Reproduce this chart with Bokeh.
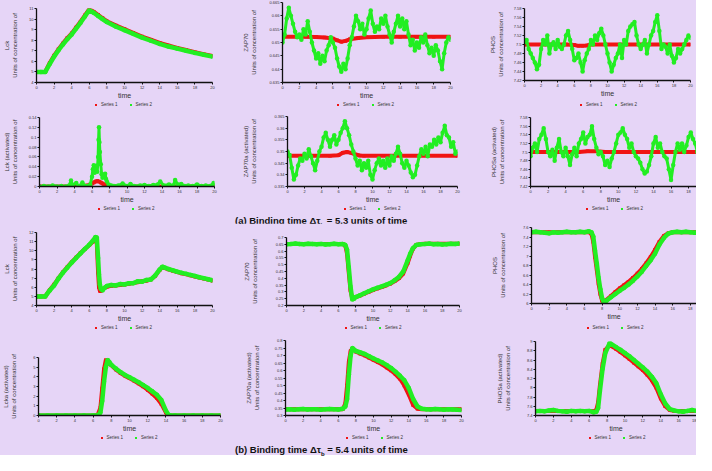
import math
from bokeh.plotting import figure
from bokeh.models import (Range1d, FixedTicker, Legend, LegendItem, Div)
from bokeh.layouts import row, column
from bokeh.embed import file_html
from bokeh.resources import INLINE

# ---------------- data ----------------
X_TICKS = [0, 2, 4, 6, 8, 10, 12, 14, 16, 18, 20]
T_GRID = [i / 4 for i in range(81)]

# (a) Lck
T1 = [0, 0.5, 1, 1.5, 2, 2.5, 3, 3.5, 4, 4.5, 5, 5.5, 6, 6.5, 7, 7.5, 8, 9, 10,
      11, 12, 13, 14, 15, 16, 17, 18, 19, 20]
LCK_A_S1 = [5.0, 5.0, 5.02, 5.85, 6.55, 7.15, 7.7, 8.2, 8.65, 9.2, 9.75, 10.35,
            10.95, 10.7, 10.4, 10.1, 9.8, 9.4, 9.05, 8.7, 8.35, 8.05, 7.75, 7.5,
            7.28, 7.07, 6.87, 6.68, 6.5]
LCK_A_S2 = [5.0, 5.0, 5.0, 5.75, 6.45, 7.05, 7.6, 8.1, 8.55, 9.1, 9.65, 10.25,
            10.85, 10.6, 10.3, 10.0, 9.72, 9.3, 8.95, 8.6, 8.25, 7.95, 7.65, 7.4,
            7.2, 7.0, 6.8, 6.62, 6.45]

# (a) ZAP70
T2R = [0, 2, 4, 5, 6, 6.5, 7, 7.5, 8, 9, 10, 12, 14, 16, 18, 20]
ZAP_A_S1 = [0.6522, 0.6522, 0.6521, 0.6519, 0.6515, 0.6508, 0.6503, 0.6506,
            0.6512, 0.6517, 0.6520, 0.6522, 0.6522, 0.6522, 0.6522, 0.6522]
ZAP_A_S2 = [0.650, 0.653, 0.659, 0.663, 0.660, 0.657, 0.654, 0.652, 0.653, 0.651,
            0.655, 0.653, 0.658, 0.654, 0.650, 0.647, 0.644, 0.646, 0.642, 0.645,
            0.643, 0.647, 0.649, 0.652, 0.650, 0.648, 0.644, 0.641, 0.639, 0.642,
            0.640, 0.644, 0.649, 0.652, 0.656, 0.660, 0.658, 0.655, 0.657, 0.653,
            0.655, 0.659, 0.662, 0.657, 0.654, 0.656, 0.655, 0.659, 0.657, 0.660,
            0.656, 0.653, 0.650, 0.654, 0.657, 0.660, 0.656, 0.659, 0.655, 0.658,
            0.653, 0.649, 0.651, 0.647, 0.650, 0.648, 0.652, 0.650, 0.653, 0.649,
            0.646, 0.648, 0.645, 0.649, 0.647, 0.643, 0.640, 0.646, 0.650, 0.652,
            0.651]

# (a) PHOS
T3R = [0, 5, 6, 6.5, 7, 7.5, 8, 20]
PHOS_A_S1 = [7.500, 7.500, 7.499, 7.497, 7.497, 7.498, 7.500, 7.500]
PHOS_A_S2 = [7.505, 7.510, 7.490, 7.480, 7.470, 7.460, 7.445, 7.455, 7.490, 7.510,
             7.500, 7.520, 7.480, 7.500, 7.505, 7.490, 7.510, 7.495, 7.490, 7.500,
             7.520, 7.530, 7.510, 7.490, 7.465, 7.470, 7.480, 7.460, 7.440, 7.465,
             7.480, 7.490, 7.510, 7.500, 7.520, 7.510, 7.525, 7.535, 7.520, 7.500,
             7.480, 7.460, 7.440, 7.455, 7.470, 7.480, 7.500, 7.470, 7.510, 7.500,
             7.530, 7.540, 7.545, 7.550, 7.520, 7.500, 7.490, 7.500, 7.510, 7.480,
             7.500, 7.520, 7.530, 7.550, 7.565, 7.530, 7.490, 7.500, 7.495, 7.480,
             7.500, 7.475, 7.460, 7.470, 7.490, 7.480, 7.490, 7.500, 7.510, 7.520,
             7.515]

# (a) Lck (activated)
T4R = [0, 4.5, 5.0, 5.5, 5.8, 6.0, 6.2, 6.4, 6.6, 6.8, 7.0, 7.2, 7.4, 7.6, 7.8,
       8.0, 8.5, 9, 20]
LCKA_A_S1 = [0, 0, 0.001, 0.002, 0.004, 0.006, 0.008, 0.010, 0.011, 0.010, 0.008,
             0.006, 0.004, 0.003, 0.002, 0.001, 0.0005, 0, 0]
T4 = [0, 0.5, 1, 1.5, 2, 2.5, 3,
      3.4, 3.6, 3.8, 4.2, 4.4, 4.7, 4.9, 5.1, 5.5, 5.8,
      6.0, 6.1, 6.2, 6.3, 6.4, 6.5, 6.6, 6.7, 6.75, 6.8, 6.85, 6.9,
      7.0, 7.1, 7.2, 7.3, 7.4, 7.5, 7.6, 7.7, 7.9,
      8.2, 8.5, 9, 9.5, 10, 10.4, 10.8, 11.5, 12, 12.5,
      13, 13.5, 13.8, 14.2, 14.8, 15.3, 15.5, 15.8, 16.2, 16.6,
      17, 17.5, 18, 18.5, 19, 19.5, 19.9, 20]
LCKA_A_S2 = [0, 0.001, 0, 0.002, 0, 0.001, 0,
             0.002, 0.012, 0.003, 0.007, 0.001, 0.002, 0.008, 0.002, 0.001, 0.004,
             0.020, 0.035, 0.043, 0.028, 0.038, 0.042, 0.030, 0.060, 0.095, 0.120, 0.090, 0.070,
             0.045, 0.025, 0.018, 0.024, 0.020, 0.026, 0.015, 0.010, 0.004,
             0.002, 0.001, 0.002, 0.006, 0.001, 0.005, 0.001, 0.002, 0.003, 0.001,
             0.003, 0.004, 0.010, 0.002, 0.004, 0.002, 0.013, 0.004, 0.005, 0.001,
             0.002, 0.001, 0.004, 0.001, 0.002, 0.001, 0.007, 0.002]

# (a) ZAP70a (activated)
T5R = [0, 5, 6, 6.5, 7, 7.5, 8, 8.5, 9, 20]
ZAPA_A_S1 = [0.3482, 0.3482, 0.3484, 0.3495, 0.3498, 0.3494, 0.3487, 0.3483,
             0.3482, 0.3482]
ZAPA_A_S2 = [0.350, 0.3485, 0.343, 0.338, 0.340, 0.344, 0.347, 0.346, 0.349, 0.347,
             0.351, 0.348, 0.345, 0.342, 0.346, 0.350, 0.352, 0.356, 0.358, 0.355,
             0.352, 0.355, 0.357, 0.353, 0.355, 0.358, 0.360, 0.363, 0.360, 0.357,
             0.353, 0.350, 0.347, 0.344, 0.346, 0.342, 0.345, 0.343, 0.346, 0.340,
             0.338, 0.342, 0.345, 0.347, 0.344, 0.346, 0.343, 0.347, 0.344, 0.348,
             0.346, 0.349, 0.352, 0.349, 0.345, 0.343, 0.346, 0.344, 0.341, 0.339,
             0.340, 0.344, 0.348, 0.351, 0.349, 0.352, 0.348, 0.353, 0.352, 0.355,
             0.353, 0.356, 0.354, 0.358, 0.361, 0.357, 0.356, 0.352, 0.354, 0.349,
             0.350]

# (a) PHOSa (activated)
T6R = [0, 5.5, 6.5, 7.5, 8.5, 20]
PHOSA_A_S1 = [7.500, 7.500, 7.502, 7.502, 7.500, 7.500]
PHOSA_A_S2 = [7.490, 7.510, 7.520, 7.500, 7.530, 7.540, 7.555, 7.530, 7.500, 7.490,
              7.505, 7.480, 7.510, 7.530, 7.500, 7.490, 7.510, 7.490, 7.470, 7.495,
              7.510, 7.490, 7.520, 7.530, 7.545, 7.520, 7.535, 7.540, 7.560, 7.530,
              7.510, 7.495, 7.500, 7.490, 7.470, 7.480, 7.465, 7.485, 7.500, 7.520,
              7.540, 7.545, 7.555, 7.540, 7.530, 7.510, 7.520, 7.500, 7.490, 7.485,
              7.475, 7.460, 7.450, 7.455, 7.470, 7.490, 7.520, 7.535, 7.510, 7.520,
              7.500, 7.490, 7.485, 7.460, 7.435, 7.470, 7.500, 7.520, 7.505, 7.520,
              7.500, 7.515, 7.535, 7.545, 7.530, 7.520, 7.500, 7.485, 7.470, 7.460,
              7.475]

# (b) Lck
T7 = [0, 0.5, 1, 1.5, 2, 2.5, 3, 3.5, 4, 4.5, 5, 5.5, 6,
      6.4, 6.7, 6.85, 7.0, 7.1, 7.2, 7.3, 7.5, 7.75,
      8, 8.5, 9, 9.5, 10, 10.5, 11, 11.5, 12, 12.5, 13, 13.5, 14,
      14.3, 14.6, 15, 15.5, 16, 16.5, 17, 17.5, 18, 18.5, 19, 19.5, 20]
LCK_B_S1 = [5.0, 5.0, 5.0, 5.7, 6.3, 7.0, 7.65, 8.2, 8.75, 9.25, 9.75, 10.2, 10.6,
            11.0, 11.35, 10.8, 7.6, 6.0, 5.6, 5.6, 5.75, 5.95,
            6.05, 6.15, 6.2, 6.25, 6.3, 6.38, 6.45, 6.55, 6.65, 6.72, 6.85, 7.25, 7.9,
            8.2, 8.1, 7.95, 7.8, 7.65, 7.52, 7.42, 7.3, 7.18, 7.06, 6.95, 6.84, 6.72]
LCK_B_S2 = [5.0, 5.0, 5.0, 5.65, 6.2, 6.95, 7.6, 8.15, 8.7, 9.2, 9.7, 10.2, 10.65,
            11.1, 11.5, 11.45, 9.2, 7.4, 6.3, 5.85, 5.65, 5.95,
            6.15, 6.25, 6.2, 6.35, 6.3, 6.45, 6.45, 6.65, 6.6, 6.8, 6.85, 7.3, 7.95,
            8.25, 8.15, 8.0, 7.85, 7.7, 7.58, 7.47, 7.35, 7.23, 7.1, 7.0, 6.88, 6.76]

# (b) ZAP70
T8 = [0, 0.5, 1, 1.5, 2, 2.5, 3, 3.5, 4, 4.5, 5, 5.5, 6,
      6.5, 6.8, 7.0, 7.2, 7.4, 7.6, 7.8, 8,
      8.5, 9, 9.5, 10, 10.5, 11, 11.5, 12, 12.5, 13, 13.5, 14,
      14.3, 14.6, 15, 15.5, 16, 16.5, 17, 17.5, 18, 18.5, 19, 19.5, 20]
ZAP_B_S1 = [0.652, 0.652, 0.652, 0.652, 0.652, 0.652, 0.652, 0.652, 0.652, 0.652,
            0.652, 0.652, 0.652,
            0.652, 0.640, 0.580, 0.440, 0.310, 0.250, 0.252, 0.262,
            0.273, 0.287, 0.300, 0.313, 0.325, 0.335, 0.347, 0.360, 0.378, 0.400,
            0.435, 0.510,
            0.565, 0.615, 0.645, 0.652, 0.654, 0.654, 0.654, 0.654, 0.654, 0.654,
            0.654, 0.654, 0.654]
ZAP_B_S2 = [0.650, 0.652, 0.655, 0.653, 0.651, 0.654, 0.652, 0.650, 0.653, 0.648,
            0.651, 0.654, 0.651,
            0.652, 0.645, 0.610, 0.480, 0.340, 0.245, 0.250, 0.262,
            0.275, 0.290, 0.305, 0.318, 0.330, 0.340, 0.352, 0.365, 0.385, 0.410,
            0.450, 0.530,
            0.580, 0.620, 0.645, 0.650, 0.652, 0.655, 0.650, 0.652, 0.649, 0.651,
            0.654, 0.652, 0.656]

# (b) PHOS
T9 = [0, 0.5, 1, 1.5, 2, 2.5, 3, 3.5, 4, 4.5, 5, 5.5, 6,
      6.5, 6.8, 7.0, 7.2, 7.4, 7.6, 7.8, 8.0, 8.2,
      8.5, 9, 9.5, 10, 10.5, 11, 11.5, 12, 12.5, 13, 13.5, 14,
      14.5, 15, 15.5, 16, 16.5, 17, 17.5, 18, 18.5, 19, 19.5, 20]
PHOS_B_S1 = [7.50, 7.50, 7.50, 7.50, 7.50, 7.50, 7.50, 7.50, 7.50, 7.50, 7.50, 7.50,
             7.50,
             7.50, 7.46, 7.30, 6.98, 6.70, 6.42, 6.20, 6.06, 6.02,
             6.08, 6.16, 6.24, 6.32, 6.39, 6.46, 6.54, 6.63, 6.73, 6.85, 6.98, 7.13,
             7.30, 7.42, 7.48, 7.50, 7.50, 7.50, 7.50, 7.50, 7.50, 7.50, 7.50, 7.50]
PHOS_B_S2 = [7.50, 7.51, 7.50, 7.49, 7.48, 7.50, 7.49, 7.50, 7.51, 7.50, 7.50, 7.51,
             7.50,
             7.52, 7.50, 7.41, 7.11, 6.84, 6.54, 6.30, 6.11, 6.03,
             6.06, 6.13, 6.20, 6.27, 6.33, 6.40, 6.48, 6.57, 6.67, 6.79, 6.91, 7.05,
             7.24, 7.38, 7.47, 7.50, 7.51, 7.50, 7.51, 7.50, 7.49, 7.51, 7.50, 7.52]

# (b) Lck (activated)
T10 = [0, 1, 2, 3, 4, 5, 6,
       6.5, 6.8, 7.0, 7.2, 7.4, 7.6, 7.8, 8,
       8.5, 9, 9.5, 10, 10.5, 11, 11.5, 12, 12.5, 13, 13.5, 14,
       14.3, 14.5, 15, 16, 17, 18, 19, 20]
LCKA_B_S1 = [0, 0, 0, 0, 0, 0, 0,
             0.05, 0.8, 2.8, 4.8, 5.75, 5.6, 5.4, 5.2,
             4.75, 4.4, 4.1, 3.85, 3.6, 3.3, 3.0, 2.65, 2.25, 1.8, 1.2, 0.3,
             0, 0, 0, 0, 0, 0, 0, 0]
LCKA_B_S2 = [0, 0, 0, 0, 0, 0, 0,
             0.02, 0.3, 1.5, 3.5, 5.0, 5.75, 5.5, 5.25,
             4.85, 4.5, 4.2, 3.95, 3.7, 3.45, 3.15, 2.85, 2.5, 2.15, 1.6, 0.5,
             0.05, 0, 0, 0, 0, 0, 0, 0]

# (b) ZAP70a (activated)
T11 = [0, 0.5, 1, 1.5, 2, 2.5, 3, 3.5, 4, 4.5, 5, 5.5, 6,
       6.5, 6.8, 7.0, 7.2, 7.4, 7.6, 8,
       8.5, 9, 9.5, 10, 10.5, 11, 11.5, 12, 12.5, 13, 13.5, 14,
       14.5, 15, 15.5, 16, 16.5, 17, 17.5, 18, 18.5, 19, 19.5, 20]
ZAPA_B_S1 = [0.341, 0.341, 0.341, 0.341, 0.341, 0.341, 0.341, 0.341, 0.341, 0.341,
             0.341, 0.341, 0.341,
             0.341, 0.38, 0.50, 0.66, 0.73, 0.745, 0.725,
             0.712, 0.70, 0.685, 0.67, 0.655, 0.64, 0.62, 0.60, 0.575, 0.545, 0.50,
             0.44,
             0.37, 0.345, 0.341, 0.341, 0.341, 0.341, 0.341, 0.341, 0.341, 0.341,
             0.341, 0.341]
ZAPA_B_S2 = [0.340, 0.342, 0.339, 0.341, 0.343, 0.340, 0.342, 0.341, 0.339, 0.342,
             0.344, 0.341, 0.340,
             0.345, 0.36, 0.41, 0.575, 0.70, 0.75, 0.73,
             0.72, 0.71, 0.695, 0.68, 0.667, 0.653, 0.636, 0.616, 0.592, 0.565,
             0.535, 0.484,
             0.41, 0.36, 0.345, 0.342, 0.340, 0.343, 0.341, 0.339, 0.342, 0.340,
             0.338, 0.337]

# (b) PHOSa (activated)
T12 = [0, 0.5, 1, 1.5, 2, 2.5, 3, 3.5, 4, 4.5, 5, 5.5, 6,
       6.5, 6.8, 7.0, 7.2, 7.5, 7.8, 8.3,
       9, 9.5, 10, 10.5, 11, 11.5, 12, 12.5, 13, 13.5, 14,
       14.5, 15, 15.5, 16, 16.5, 17, 17.5, 18, 18.5, 19]
PHOSA_B_S1 = [7.50, 7.50, 7.50, 7.50, 7.50, 7.50, 7.50, 7.50, 7.50, 7.50, 7.50,
              7.50, 7.50,
              7.49, 7.52, 7.68, 8.05, 8.52, 8.82, 8.92,
              8.84, 8.77, 8.70, 8.62, 8.54, 8.46, 8.38, 8.28, 8.16, 8.00, 7.77,
              7.60, 7.52, 7.50, 7.50, 7.50, 7.50, 7.50, 7.50, 7.50, 7.50]
PHOSA_B_S2 = [7.49, 7.50, 7.49, 7.51, 7.52, 7.50, 7.49, 7.48, 7.50, 7.49, 7.50,
              7.49, 7.50,
              7.47, 7.48, 7.56, 7.93, 8.41, 8.75, 8.97,
              8.88, 8.82, 8.75, 8.68, 8.60, 8.52, 8.44, 8.35, 8.24, 8.10, 7.86,
              7.66, 7.54, 7.51, 7.49, 7.48, 7.50, 7.52, 7.50, 7.48, 7.47]

Y_LCK_A = [4, 5, 6, 7, 8, 9, 10, 11]
Y_ZAP_A = [0.635, 0.640, 0.645, 0.650, 0.655, 0.660, 0.665]
Y_PHOS_A = [7.42, 7.44, 7.46, 7.48, 7.50, 7.52, 7.54, 7.56, 7.58]
Y_LCKA_A = [0.00, 0.02, 0.04, 0.06, 0.08, 0.10, 0.12, 0.14]
Y_ZAPA_A = [0.335, 0.340, 0.345, 0.350, 0.355, 0.360, 0.365]
Y_LCK_B = [4, 5, 6, 7, 8, 9, 10, 11, 12]
Y_ZAP_B = [0.20, 0.25, 0.30, 0.35, 0.40, 0.45, 0.50, 0.55, 0.60, 0.65, 0.70]
Y_PHOS_B = [6.0, 6.2, 6.4, 6.6, 6.8, 7.0, 7.2, 7.4, 7.6]
Y_LCKA_B = [0, 1, 2, 3, 4, 5, 6]
Y_ZAPA_B = [0.30, 0.35, 0.40, 0.45, 0.50, 0.55, 0.60, 0.65, 0.70, 0.75, 0.80]
Y_PHOSA_B = [7.4, 7.6, 7.8, 8.0, 8.2, 8.4, 8.6, 8.8, 9.0]

PREFIX = "Units of concentration of"
LEGEND_LABELS = ["Series 1", "Series 2"]
CAPTION_A = "(a) Binding time &Delta;&tau;<sub>b</sub> = 5.3 units of time"
CAPTION_B = "(b) Binding time &Delta;&tau;<sub>b</sub> = 5.4 units of time"

# ---------------- style ----------------
BG = "#E6D5F7"
FONT = "Liberation Sans"
RED = "#F01414"
GREEN = "#22EE22"
AXC = "#111111"
TXT = "#333333"
LEG_W = 58
LEG_H = 7


def no_align(p):
    try:
        p.frame_align = False
    except Exception:
        pass


def make_panel(w, h, border, xr, yr, yticks, name, ystand,
               t1, y1, t2, y2, noisy):
    assert len(t1) == len(y1), name
    assert len(t2) == len(y2), name
    l, r, t, b = border
    p = figure(width=w, height=h, x_range=Range1d(*xr), y_range=Range1d(*yr),
               output_backend="svg", toolbar_location=None,
               min_border_left=l, min_border_right=r, min_border_top=t,
               min_border_bottom=b, background_fill_color=BG,
               border_fill_color=BG, outline_line_color=None)
    no_align(p)
    p.xgrid.visible = False
    p.ygrid.visible = False

    p.line(t1, y1, line_color=RED, line_width=4)
    p.scatter(t1, y1, marker="square", size=3.5, fill_color=RED, line_color=None)
    if noisy:
        p.line(t2, y2, line_color=GREEN, line_width=3)
        p.scatter(t2, y2, marker="circle", size=4.5, fill_color=GREEN,
                  line_color=None)
    else:
        p.line(t2, y2, line_color=GREEN, line_width=4.5)
        p.scatter(t2, y2, marker="circle", size=4.5, fill_color=GREEN,
                  line_color=None)

    xa = p.xaxis[0]
    ya = p.yaxis[0]
    xa.ticker = FixedTicker(ticks=X_TICKS)
    ya.ticker = FixedTicker(ticks=yticks)
    for ax in (xa, ya):
        ax.axis_line_color = AXC
        ax.axis_line_width = 1.3
        ax.major_tick_line_color = AXC
        ax.major_tick_out = 2
        ax.major_tick_in = 0
        ax.minor_tick_line_color = None
        ax.major_label_text_font = FONT
        ax.major_label_text_font_size = "4px"
        ax.major_label_text_color = TXT
        ax.major_label_standoff = 1
        ax.axis_label_text_font = FONT
        ax.axis_label_text_font_style = "normal"
        ax.axis_label_text_color = TXT
    xa.axis_label = "time"
    xa.axis_label_text_font_size = "7px"
    xa.axis_label_standoff = 0
    ya.axis_label = name + "\n" + PREFIX
    ya.axis_label_text_font_size = "6px"
    ya.axis_label_text_line_height = 1.35
    ya.axis_label_standoff = int(round(ystand))
    return p


def make_legend(w, border, t1, y1, t2, y2):
    # the legend strip shares the panel's series; its ranges keep them hidden,
    # only the legend swatches are visible
    l, r, _, _ = border
    lf = figure(width=w, height=LEG_H, x_range=Range1d(0, 20),
                y_range=Range1d(-1001, -1000),
                output_backend="svg", toolbar_location=None,
                x_axis_location=None, y_axis_location=None, min_border=0,
                background_fill_color=BG, border_fill_color=BG,
                outline_line_color=None)
    no_align(lf)
    lf.xgrid.visible = False
    lf.ygrid.visible = False
    rs = lf.scatter(t1, y1, marker="square", size=3.5, fill_color=RED,
                    line_color=None)
    gs = lf.scatter(t2, y2, marker="square", size=3.5, fill_color=GREEN,
                    line_color=None)
    frame_w = w - l - r
    legend = Legend(items=[LegendItem(label=LEGEND_LABELS[0], renderers=[rs]),
                           LegendItem(label=LEGEND_LABELS[1], renderers=[gs])],
                    orientation="horizontal",
                    location=(l + (frame_w - LEG_W) / 2, 1),
                    label_text_font=FONT, label_text_font_size="4.5px",
                    label_text_color=TXT, glyph_width=5, glyph_height=5,
                    label_height=5, label_width=10, label_standoff=3,
                    spacing=10, padding=0, margin=0, border_line_color=None,
                    background_fill_alpha=0)
    lf.add_layout(legend)
    return lf


W1, W2, W3 = 240, 240, 216
H1, H2, H3, H4 = 101, 97, 101, 103

B1 = [(32, 28, 8, 17), (38, 30, 2, 17), (44, 6, 8, 21)]
B2 = [(35, 26, 9, 17), (44, 23, 8, 17), (50, 0, 9, 17)]
B3 = [(32, 28, 9, 17), (44, 21, 14, 17), (51, 0, 4, 21)]
B4 = [(35, 20, 26, 17), (45, 19, 9, 17), (55, 0, 10, 17)]

SPECS = [
    [(W1, H1, B1[0], (0, 20), (4, 11), Y_LCK_A, "Lck", 8,
      T1, LCK_A_S1, T1, LCK_A_S2, False),
     (W2, H1, B1[1], (0, 20), (0.635, 0.665), Y_ZAP_A, "ZAP70", 9,
      T2R, ZAP_A_S1, T_GRID, ZAP_A_S2, True),
     (W3, H1, B1[2], (0, 20), (7.42, 7.58), Y_PHOS_A, "PHOS", 7,
      T3R, PHOS_A_S1, T_GRID, PHOS_A_S2, True)],
    [(W1, H2, B2[0], (0, 20), (0, 0.14), Y_LCKA_A, "Lck (activated)", 8,
      T4R, LCKA_A_S1, T4, LCKA_A_S2, True),
     (W2, H2, B2[1], (0, 20), (0.335, 0.365), Y_ZAPA_A, "ZAP70a (activated)", 14,
      T5R, ZAPA_A_S1, T_GRID, ZAPA_A_S2, True),
     (W3, H2, B2[2], (0, 18.9), (7.42, 7.58), Y_PHOS_A, "PHOSa (activated)", 12,
      T6R, PHOSA_A_S1, T_GRID, PHOSA_A_S2, True)],
    [(W1, H3, B3[0], (0, 20), (4, 12), Y_LCK_B, "Lck", 8,
      T7, LCK_B_S1, T7, LCK_B_S2, False),
     (W2, H3, B3[1], (0, 20), (0.20, 0.70), Y_ZAP_B, "ZAP70", 15,
      T8, ZAP_B_S1, T8, ZAP_B_S2, False),
     (W3, H3, B3[2], (0, 18.7), (6.0, 7.6), Y_PHOS_B, "PHOS", 14,
      T9, PHOS_B_S1, T9, PHOS_B_S2, False)],
    [(W1, H4, B4[0], (0, 20), (0, 6), Y_LCKA_B, "Lcka (activated)", 13,
      T10, LCKA_B_S1, T10, LCKA_B_S2, False),
     (W2, H4, B4[1], (0, 20), (0.30, 0.80), Y_ZAPA_B, "ZAP70a (activated)", 12,
      T11, ZAPA_B_S1, T11, ZAPA_B_S2, False),
     (W3, H4, B4[2], (0, 18.0), (7.4, 9.0), Y_PHOSA_B, "PHOSa (activated)", 13,
      T12, PHOSA_B_S1, T12, PHOSA_B_S2, False)],
]


def caption(txt, h, pad):
    html = ('<div style="margin-left:235px;padding-top:' + str(pad) + 'px;'
            'font-family:\'Liberation Sans\',Arial,'
            'sans-serif;font-weight:bold;font-size:9.5px;line-height:11px;'
            'color:#111;white-space:nowrap">'
            + txt.replace("<sub>", '<sub style="font-size:6px;line-height:0">')
            + '</div>')
    return Div(text=html, width=696, height=h, margin=(0, 0, 0, 0),
               styles={"background-color": BG})


children = []
for i, spec_row in enumerate(SPECS):
    children.append(row(*[make_panel(*s) for s in spec_row]))
    children.append(row(*[make_legend(s[0], s[2], s[8], s[9], s[10], s[11])
                          for s in spec_row]))
    if i == 1:
        children.append(caption(CAPTION_A, 11, 0))
children.append(caption(CAPTION_B, 14, 2))

layout = column(*children, styles={"background-color": BG})

open("out.html", "w").write(file_html(layout, INLINE))
